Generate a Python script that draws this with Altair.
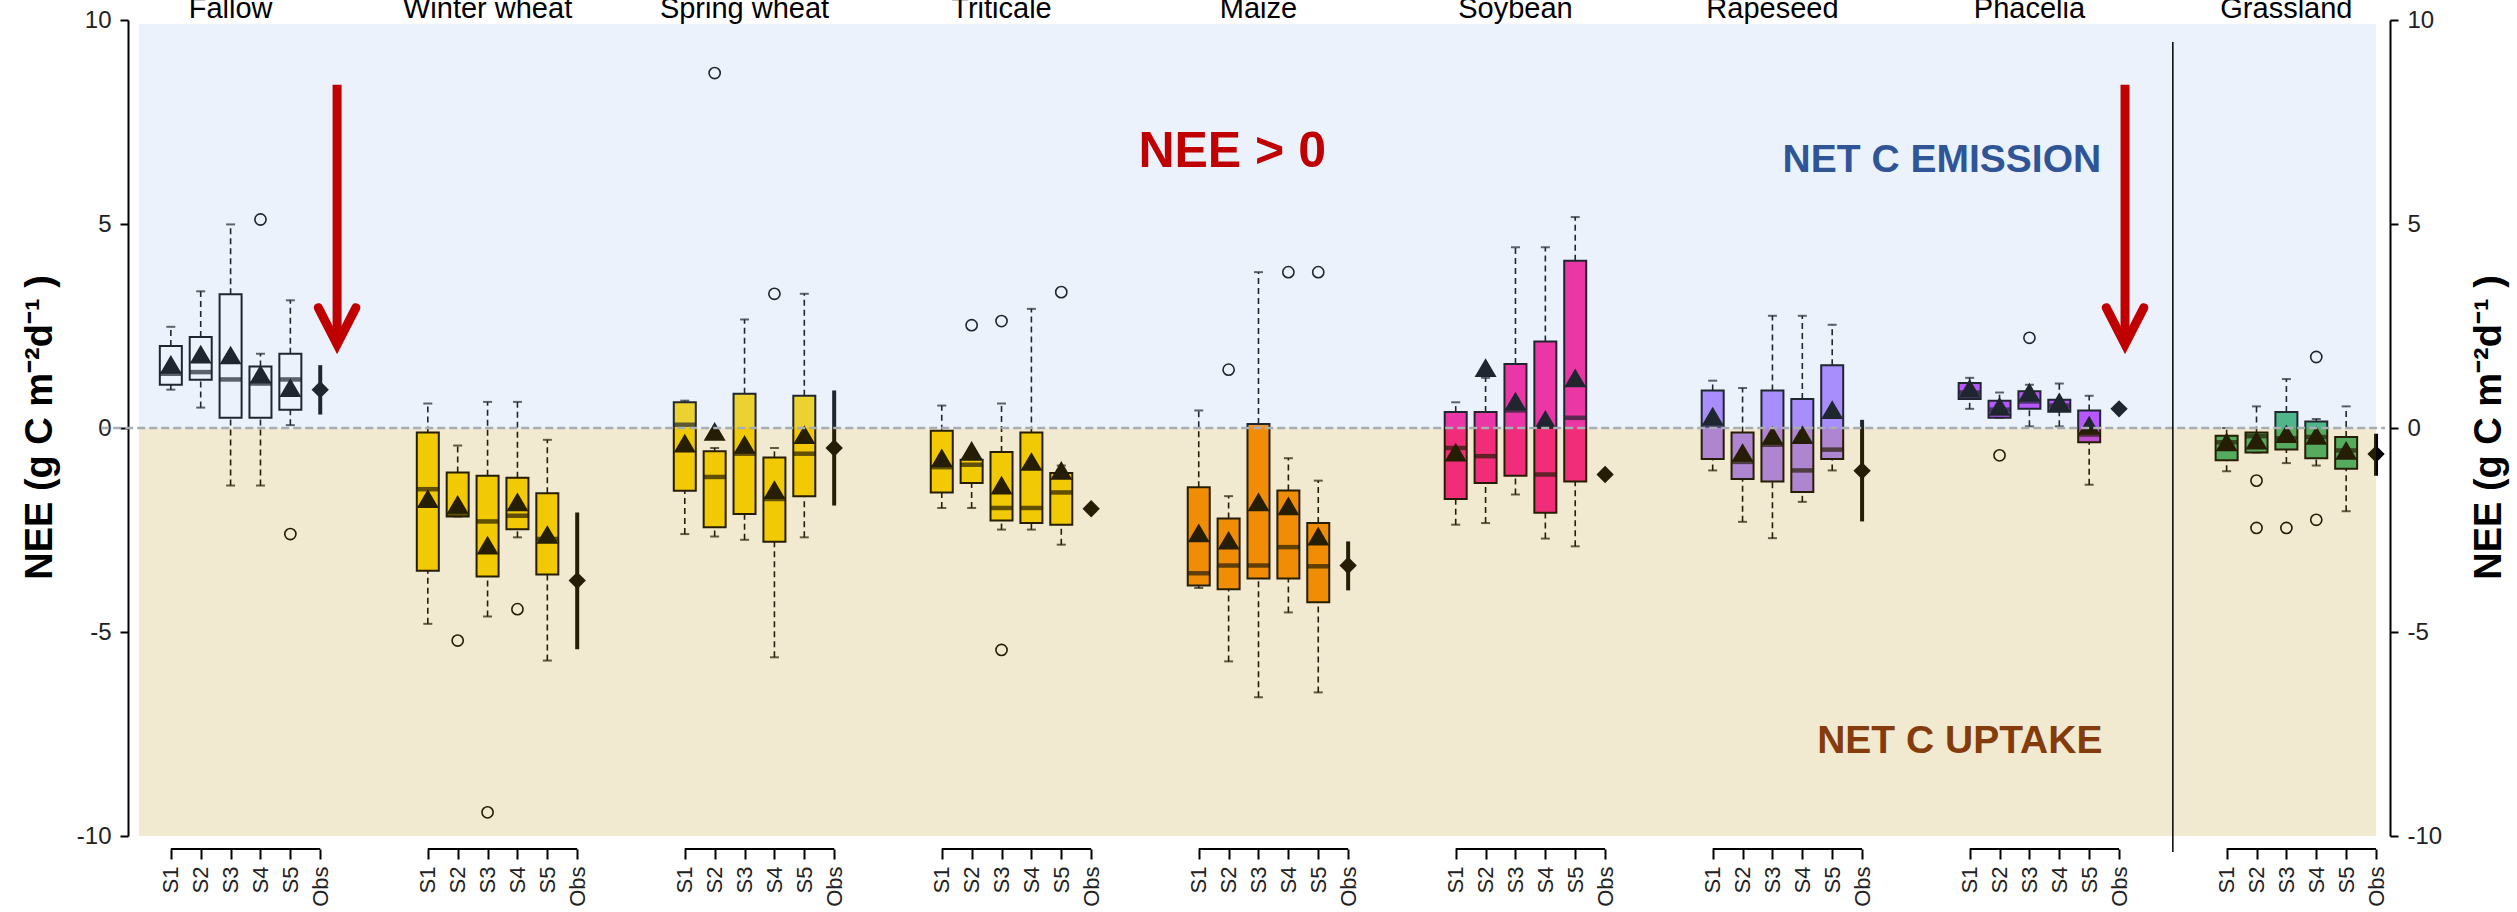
import altair as alt
import pandas as pd

# ---------------- data ----------------
crops = ["Fallow", "Winter wheat", "Spring wheat", "Triticale", "Maize",
         "Soybean", "Rapeseed", "Phacelia", "Grassland"]
scenarios = ["S1", "S2", "S3", "S4", "S5"]
box_colors = ["#FFFFFF", "#FFD700", "#FFD700", "#FFD700", "#FF8C00",
              "#FF1493", "#AB82FF", "#BF3EFF", "#3CB371"]

q3 = [
    [2.01, 2.23, 3.28, 1.51, 1.82],
    [-0.11, -1.09, -1.17, -1.22, -1.60],
    [0.63, -0.57, 0.84, -0.72, 0.79],
    [-0.07, -0.78, -0.59, -0.11, -1.10],
    [-1.45, -2.22, 0.10, -1.53, -2.33],
    [0.39, 0.39, 1.57, 2.12, 4.10],
    [0.92, -0.11, 0.92, 0.71, 1.54],
    [1.10, 0.67, 0.90, 0.69, 0.43],
    [-0.19, -0.11, 0.39, 0.16, -0.22],
]
q1 = [
    [1.06, 1.18, 0.25, 0.25, 0.45],
    [-3.50, -2.17, -3.64, -2.48, -3.59],
    [-1.54, -2.43, -2.11, -2.79, -1.67],
    [-1.58, -1.35, -2.27, -2.33, -2.37],
    [-3.86, -3.95, -3.69, -3.69, -4.27],
    [-1.74, -1.35, -1.17, -2.08, -1.31],
    [-0.76, -1.25, -1.31, -1.57, -0.76],
    [0.71, 0.25, 0.47, 0.40, -0.35],
    [-0.79, -0.60, -0.53, -0.74, -1.00],
]
median = [
    [1.33, 1.37, 1.19, 1.09, 1.19],
    [-1.50, -2.12, -2.29, -2.15, -2.72],
    [0.08, -1.20, -0.63, -1.74, -0.63],
    [-0.96, -0.90, -1.96, -1.96, -1.58],
    [-3.56, -3.37, -3.37, -2.92, -3.39],
    [-0.49, -0.69, 0.43, -1.14, 0.25],
    [0.06, -0.83, -0.41, -1.04, -0.53],
    [0.87, 0.45, 0.65, 0.55, -0.16],
    [-0.35, -0.20, -0.25, -0.22, -0.55],
]
mean = [
    [1.33, 1.58, 1.56, 1.09, 0.76],
    [-1.96, -2.10, -3.10, -2.04, -2.84],
    [-0.60, -0.31, -0.63, -1.74, -0.39],
    [-0.96, -0.78, -1.63, -1.05, -1.27],
    [-2.80, -2.98, -2.04, -2.14, -2.88],
    [-0.82, 1.25, 0.43, -0.02, 1.00],
    [0.06, -0.83, -0.41, -0.39, 0.22],
    [0.74, 0.30, 0.65, 0.41, -0.16],
    [-0.57, -0.53, -0.37, -0.41, -0.78],
]
whisker_hi = [
    [2.48, 3.35, 4.99, 1.82, 3.13],
    [0.60, -0.43, 0.64, 0.64, -0.29],
    [0.67, -0.49, 2.66, -0.49, 3.29],
    [0.55, -0.78, 0.60, 2.92, -0.92],
    [0.43, -1.67, 3.82, -0.74, -1.29],
    [0.63, 1.23, 4.43, 4.43, 5.17],
    [1.16, 0.98, 2.75, 2.75, 2.53],
    [1.23, 0.87, 1.06, 1.09, 0.79],
    [0.00, 0.53, 1.20, 0.22, 0.53],
]
whisker_lo = [
    [0.94, 0.50, -1.41, -1.41, 0.07],
    [-4.80, -2.17, -4.62, -2.68, -5.70],
    [-2.60, -2.66, -2.74, -5.62, -2.68],
    [-1.96, -1.96, -2.49, -2.49, -2.86],
    [-3.92, -5.72, -6.60, -4.52, -6.48],
    [-2.37, -2.33, -1.63, -2.71, -2.90],
    [-1.04, -2.30, -2.70, -1.81, -1.04],
    [0.47, 0.25, 0.04, 0.04, -1.39],
    [-1.06, -0.60, -0.86, -0.92, -2.04],
]
outliers = [
    ("Fallow", "S4", 5.11), ("Fallow", "S5", -2.60),
    ("Winter wheat", "S2", -5.21), ("Winter wheat", "S3", -9.42), ("Winter wheat", "S4", -4.44),
    ("Spring wheat", "S2", 8.70), ("Spring wheat", "S4", 3.29),
    ("Triticale", "S2", 2.52), ("Triticale", "S3", 2.62), ("Triticale", "S3", -5.44),
    ("Triticale", "S5", 3.33),
    ("Maize", "S2", 1.43), ("Maize", "S4", 3.82), ("Maize", "S5", 3.82),
    ("Phacelia", "S2", -0.67), ("Phacelia", "S3", 2.21),
    ("Grassland", "S2", -1.29), ("Grassland", "S2", -2.45), ("Grassland", "S3", -2.45),
    ("Grassland", "S4", 1.74), ("Grassland", "S4", -2.25),
]
obs_mean = [0.94, -3.74, -0.49, -1.98, -3.37, -1.14, -1.05, 0.47, -0.64]
obs_lo = [0.33, -5.42, -1.90, -1.98, -3.98, -1.14, -2.29, 0.47, -1.17]
obs_hi = [1.54, -2.07, 0.92, -1.98, -2.78, -1.14, 0.20, 0.47, -0.14]

annotations = [
    {"label": "NEE > 0", "color": "#C00000"},
    {"label": "NET C EMISSION", "color": "#2F5597"},
    {"label": "NET C UPTAKE", "color": "#843C0C"},
]

# ---------------- layout constants ----------------
GROUP = 86     # distance between crop groups (x units)
SLOT = 10      # distance between boxes in a group
W, H = 2262, 816
X_DOMAIN = [-12.66, 741.0]


def pos(g, j):
    return GROUP * g + SLOT * j


rows = []
for g, c in enumerate(crops):
    for j, s in enumerate(scenarios):
        rows.append(dict(crop=c, scen=s, pos=pos(g, j), q1=q1[g][j], q3=q3[g][j],
                         med=median[g][j], mean=mean[g][j],
                         wlo=whisker_lo[g][j], whi=whisker_hi[g][j]))
box_df = pd.DataFrame(rows)
out_df = pd.DataFrame([dict(crop=c, pos=pos(crops.index(c), scenarios.index(s)), v=v)
                       for c, s, v in outliers])
obs_df = pd.DataFrame([dict(crop=c, pos=pos(g, 5), m=obs_mean[g], lo=obs_lo[g], hi=obs_hi[g])
                       for g, c in enumerate(crops)])
lab_df = pd.DataFrame([dict(crop=c, pos=pos(g, 2)) for g, c in enumerate(crops)])
seg_df = pd.DataFrame([dict(a=pos(g, 0), b=pos(g, 5)) for g in range(len(crops))])

tick_values = [pos(g, j) for g in range(len(crops)) for j in range(6)]

xscale = alt.Scale(domain=X_DOMAIN, nice=False, zero=False)
yscale = alt.Scale(domain=[-10, 10], nice=False, zero=False)

TITLE = "NEE (g C  m\u207b\u00b2d\u207b\u00b9 )"

xaxis = alt.Axis(values=tick_values,
                 labelExpr="['S1','S2','S3','S4','S5','Obs'][round((datum.value % 86) / 10)]",
                 labelAngle=270, labelAlign="right", labelBaseline="middle",
                 labelFont="Liberation Sans", labelFontSize=22, labelColor="#222222",
                 labelPadding=7, tickSize=10, tickWidth=2, tickColor="black",
                 domain=False, offset=13, grid=False, title="",
                 labelOverlap=False, labelFlush=False, labelBound=False)


def yaxis(orient, title_x):
    return alt.Axis(orient=orient, values=[-10, -5, 0, 5, 10], labelExpr="'' + datum.value",
                    labelFont="Liberation Sans", labelFontSize=24, labelColor="#222222",
                    labelPadding=9, tickSize=8, tickWidth=2, tickColor="black",
                    domainColor="black", domainWidth=2, grid=False,
                    title=TITLE, titleFont="Liberation Sans", titleFontSize=38,
                    titleFontWeight="bold", titleColor="black", titleAngle=270,
                    titleX=title_x, titleY=407, titleAlign="center",
                    titleBaseline="alphabetic")


YAX = yaxis("left", -77)


def X(f="pos"):
    return alt.X(f"{f}:Q", scale=xscale, axis=xaxis)


def Y(f):
    return alt.Y(f"{f}:Q", scale=yscale, axis=YAX)


fill = alt.Fill("crop:N", scale=alt.Scale(domain=crops, range=box_colors), legend=None)
base = alt.Chart(box_df)

whisk_up = base.mark_rule(color="black", strokeWidth=1.6, strokeDash=[6, 4]).encode(
    x=X(), y=Y("q3"), y2="whi:Q")
whisk_dn = base.mark_rule(color="black", strokeWidth=1.6, strokeDash=[6, 4]).encode(
    x=X(), y=Y("wlo"), y2="q1:Q")
cap_up = base.mark_tick(color="black", orient="horizontal", size=9, thickness=2).encode(
    x=X(), y=Y("whi"))
cap_dn = base.mark_tick(color="black", orient="horizontal", size=9, thickness=2).encode(
    x=X(), y=Y("wlo"))
boxes = base.mark_bar(size=22, stroke="black", strokeWidth=2).encode(
    x=X(), y=Y("q1"), y2="q3:Q", fill=fill)
medians = base.mark_tick(color="black", orient="horizontal", size=22, thickness=4.5).encode(
    x=X(), y=Y("med"))
means = base.mark_point(shape="M -1 0 L 1 0 L 0 -1.7 Z", size=484, filled=True,
                        color="black", opacity=1).encode(x=X(), y=Y("mean"))
outl = alt.Chart(out_df).mark_point(shape="circle", size=125, filled=False, color="black",
                                    strokeWidth=1.6, opacity=1).encode(x=X(), y=Y("v"))
obs_bar = alt.Chart(obs_df).mark_rule(color="black", strokeWidth=4).encode(
    x=X(), y=Y("lo"), y2="hi:Q")
obs_pt = alt.Chart(obs_df).mark_point(shape="diamond", size=300, filled=True,
                                      color="black", opacity=1).encode(x=X(), y=Y("m"))

# translucent background bands drawn over the boxes
band_up_df = pd.DataFrame([dict(x1=-10.66, x2=738.0, y1=0.0, y2=9.9)])
band_dn_df = pd.DataFrame([dict(x1=-10.66, x2=738.0, y1=-10.0, y2=0.0)])
band_up = alt.Chart(band_up_df).mark_rect(fill="#9BBEF0", opacity=0.2).encode(
    x=X("x1"), x2="x2:Q", y=Y("y1"), y2="y2:Q")
band_dn = alt.Chart(band_dn_df).mark_rect(fill="#B98F16", opacity=0.2).encode(
    x=X("x1"), x2="x2:Q", y=Y("y1"), y2="y2:Q")

zero_df = pd.DataFrame([dict(a=-23.3, b=741.0, y=0.0)])
zero_line = alt.Chart(zero_df).mark_rule(color="#A8ADB4", strokeWidth=2.5,
                                         strokeDash=[8, 4]).encode(
    x=X("a"), x2="b:Q", y=Y("y"))

sep_df = pd.DataFrame([dict(x=670.0, y1=9.46, y2=-10.39)])
sep = alt.Chart(sep_df).mark_rule(color="black", strokeWidth=1.5).encode(
    x=X("x"), y=Y("y1"), y2="y2:Q")

seg_df["y"] = -10.32
segs = alt.Chart(seg_df).mark_rule(color="black", strokeWidth=2).encode(
    x=X("a"), x2="b:Q", y=Y("y"))

lab_df["y"] = 10.05
crop_labels = alt.Chart(lab_df).mark_text(font="Liberation Sans", fontSize=29,
                                          baseline="alphabetic", align="center",
                                          color="black").encode(
    x=X(), y=Y("y"), text="crop:N")

# red arrows
arrow_x = [55.64, 654.0]
shaft_df = pd.DataFrame([dict(x=ax, top=8.41, bot=2.15) for ax in arrow_x])
shafts = alt.Chart(shaft_df).mark_rule(color="#C00000", strokeWidth=9).encode(
    x=X("x"), y=Y("top"), y2="bot:Q")
head_rows = []
for k, ax in enumerate(arrow_x):
    head_rows += [dict(a=k, o=0, x=ax - 6.3, y=2.95), dict(a=k, o=1, x=ax, y=2.05),
                  dict(a=k, o=2, x=ax + 6.3, y=2.95)]
heads = alt.Chart(pd.DataFrame(head_rows)).mark_line(
    color="#C00000", strokeWidth=9, strokeJoin="miter", strokeCap="round").encode(
    x=X("x"), y=Y("y"), detail="a:N", order="o:Q")

ann_pos = [(355.2, 6.40), (592.7, 6.27), (598.7, -7.97)]
ann_df = pd.DataFrame([dict(label=a["label"], color=a["color"], x=p[0], y=p[1])
                       for a, p in zip(annotations, ann_pos)])
t_nee = alt.Chart(ann_df.iloc[[0]]).mark_text(
    font="Liberation Sans", fontWeight="bold", fontSize=50,
    baseline="alphabetic", align="center").encode(
    x=X("x"), y=Y("y"), text="label:N", color=alt.Color("color:N", scale=None))
t_net = alt.Chart(ann_df.iloc[1:]).mark_text(
    font="Liberation Sans", fontWeight="bold", fontSize=39,
    baseline="alphabetic", align="center").encode(
    x=X("x"), y=Y("y"), text="label:N", color=alt.Color("color:N", scale=None))

main = alt.layer(whisk_up, whisk_dn, cap_up, cap_dn, boxes, medians, means, outl,
                 obs_bar, obs_pt, band_up, band_dn, zero_line, sep, segs, crop_labels,
                 shafts, heads, t_nee, t_net)

right_axis = alt.Chart(pd.DataFrame({"v": [0.0]})).mark_point(opacity=0).encode(
    y=alt.Y("v:Q", scale=alt.Scale(domain=[-10, 10], nice=False, zero=False),
            axis=yaxis("right", 110)))

chart = alt.layer(main, right_axis).resolve_scale(y="independent").properties(
    width=W, height=H,
    autosize=alt.AutoSizeParams(type="none"),
    padding={"left": 128, "top": 20, "right": 127, "bottom": 76},
).configure_view(stroke=None)

chart.save("out.html", embed_options={"renderer": "svg", "actions": False})
